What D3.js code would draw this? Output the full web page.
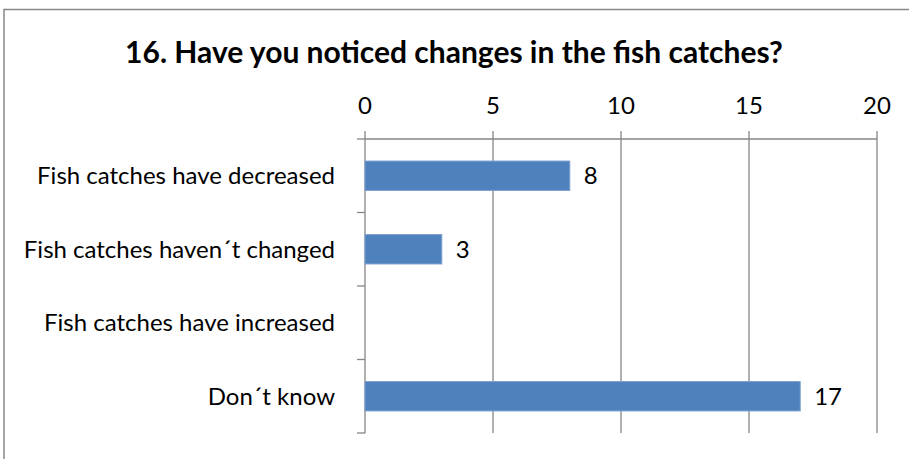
<!DOCTYPE html>
<html>
<head>
<meta charset="utf-8">
<script src="https://cdn.jsdelivr.net/npm/d3@7"></script>
<style>
	body { margin: 0; background: #fff; }
	text { font-family: Lato, "Open Sans", sans-serif; fill: #000; }
</style>
</head>
<body>
<svg id="chart" width="909" height="459"></svg>
<script>
const title = "16. Have you noticed changes in the fish catches?";
const categories = [
	"Fish catches have decreased",
	"Fish catches haven´t changed",
	"Fish catches have increased",
	"Don´t know"
];
const values = [8, 3, null, 17];
const xTicks = [0, 5, 10, 15, 20];

const svg = d3.select("#chart");
const plotLeft = 365, plotRight = 877, plotTop = 139, plotBottom = 433;

// frame (cut off on the right and bottom)
svg.append("path")
	.attr("d", "M4,459 V9.5 H909")
	.attr("fill", "none")
	.attr("stroke", "#888")
	.attr("stroke-width", 1.5);

svg.append("text")
	.attr("x", 454)
	.attr("y", 63)
	.attr("text-anchor", "middle")
	.attr("font-size", 30)
	.attr("font-weight", "bold")
	.text(title);

const x = d3.scaleLinear().domain([0, 20]).range([plotLeft, plotRight]);
const y = d3.scaleBand().domain(categories).range([plotTop, plotBottom]).paddingInner(0.6).paddingOuter(0.3);

// gridlines + top ticks
svg.append("g")
	.selectAll("line")
	.data(xTicks)
	.join("line")
	.attr("x1", d => x(d))
	.attr("x2", d => x(d))
	.attr("y1", plotTop - 8)
	.attr("y2", plotBottom)
	.attr("stroke", "#868686")
	.attr("stroke-width", 1.3);

svg.append("line")
	.attr("x1", plotLeft).attr("x2", plotRight)
	.attr("y1", plotTop).attr("y2", plotTop)
	.attr("stroke", "#868686").attr("stroke-width", 1.3);

// category boundary ticks on the left axis
const step = (plotBottom - plotTop) / categories.length;
svg.append("g")
	.selectAll("line")
	.data(d3.range(categories.length + 1))
	.join("line")
	.attr("x1", plotLeft - 8).attr("x2", plotLeft)
	.attr("y1", i => plotTop + i * step)
	.attr("y2", i => plotTop + i * step)
	.attr("stroke", "#868686").attr("stroke-width", 1.3);

svg.append("g")
	.selectAll("text")
	.data(xTicks)
	.join("text")
	.attr("x", d => x(d))
	.attr("y", 114)
	.attr("text-anchor", "middle")
	.attr("font-size", 24)
	.text(d => d);

svg.append("g")
	.selectAll("text")
	.data(categories)
	.join("text")
	.attr("x", 335)
	.attr("y", d => y(d) + y.bandwidth() / 2)
	.attr("dy", "0.35em")
	.attr("text-anchor", "end")
	.attr("font-size", 24)
	.text(d => d);

const bars = categories.map((c, i) => ({ c, v: values[i] })).filter(d => d.v);

svg.append("g")
	.selectAll("rect")
	.data(bars)
	.join("rect")
	.attr("x", x(0))
	.attr("y", d => y(d.c))
	.attr("width", d => x(d.v) - x(0))
	.attr("height", y.bandwidth())
	.attr("fill", "#4F81BD")
	.attr("stroke", "#7DA0D0")
	.attr("stroke-width", 1);

svg.append("g")
	.selectAll("text")
	.data(bars)
	.join("text")
	.attr("x", d => x(d.v) + 14)
	.attr("y", d => y(d.c) + y.bandwidth() / 2)
	.attr("dy", "0.35em")
	.attr("font-size", 24)
	.text(d => d.v);
</script>
</body>
</html>
